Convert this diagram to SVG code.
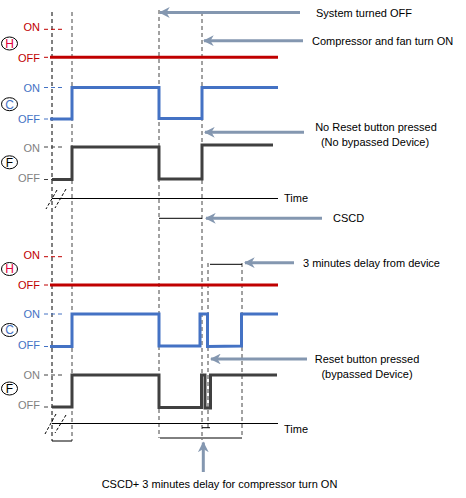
<svg xmlns="http://www.w3.org/2000/svg" width="466" height="498" viewBox="0 0 466 498">
<defs>
<marker id="ah" viewBox="0 0 10 10" refX="9" refY="5" markerWidth="3.6" markerHeight="3.6" orient="auto" markerUnits="strokeWidth">
<path d="M0,0 L10,5 L0,10 L3,5 Z" fill="#8497b0"/>
</marker>
</defs>
<style>
text{font-family:"Liberation Sans",Arial,sans-serif;font-size:11px;fill:#000}
.lbl{font-size:11px;text-anchor:end}
.red{fill:#c00000}.blu{fill:#4472c4}.gry{fill:#7f7f7f}
.vd{stroke:#444;stroke-width:1;stroke-dasharray:4,3;fill:none}
.ax{stroke:#000;stroke-width:1;fill:none}
.sl{stroke:#000;stroke-width:1;stroke-dasharray:3,2;fill:none}
.tk{stroke-width:1;stroke-dasharray:4,3;fill:none}
.sig{fill:none;stroke-width:3;stroke-linejoin:miter}
.arr{stroke:#8497b0;stroke-width:3;fill:none;marker-end:url(#ah)}
.circ{fill:#fff;stroke:#000;stroke-width:1}
.cl{font-size:12px;text-anchor:middle}
</style>

<g id="guides">
<line class="vd" x1="52" y1="12" x2="52" y2="441" style="stroke:#000"/>
<line class="vd" x1="72" y1="12" x2="72" y2="441"/>
<line class="vd" x1="159" y1="10" x2="159" y2="438"/>
<line class="vd" x1="202" y1="12" x2="202" y2="440"/>
<line class="vd" x1="208" y1="263" x2="208" y2="428"/>
<line class="vd" x1="242" y1="263" x2="242" y2="438"/>
</g>

<g id="top-panel">
<g id="top-H">
<ellipse class="circ" cx="9.5" cy="43.5" rx="8" ry="6.5"/>
<text class="cl" x="9.5" y="47.8" style="fill:#e0003c">H</text>
<text class="lbl red" x="40" y="31">ON</text>
<text class="lbl red" x="40" y="61.5">OFF</text>
<line class="tk" x1="44" y1="29.3" x2="63" y2="29.3" stroke="#c00000"/>
<line class="tk" x1="44" y1="57.3" x2="63" y2="57.3" stroke="#c00000"/>
<polyline class="sig" stroke="#c00000" points="50,57.3 278,57.3"/>
</g>
<g id="top-C">
<ellipse class="circ" cx="9.5" cy="104.2" rx="8" ry="6.5"/>
<text class="cl blu" x="9.5" y="108.5">C</text>
<text class="lbl blu" x="40" y="92">ON</text>
<text class="lbl blu" x="40" y="122.5">OFF</text>
<line class="tk" x1="44" y1="87.5" x2="63" y2="87.5" stroke="#4472c4"/>
<line class="tk" x1="44" y1="119" x2="63" y2="119" stroke="#4472c4"/>
<polyline class="sig" stroke="#4472c4" points="50,119 72,119 72,87.5 159,87.5 159,118.5 202,118.5 202,87.5 278,87.5"/>
</g>
<g id="top-F">
<ellipse class="circ" cx="9.5" cy="162.3" rx="8" ry="6.5"/>
<text class="cl" x="9.5" y="166.6">F</text>
<text class="lbl gry" x="40" y="152">ON</text>
<text class="lbl gry" x="40" y="182">OFF</text>
<line class="tk" x1="44" y1="147" x2="63" y2="147" stroke="#404040"/>
<line class="tk" x1="44" y1="179.5" x2="63" y2="179.5" stroke="#404040"/>
<polyline class="sig" stroke="#404040" points="52,179.5 72,179.5 72,147 159,147 159,179 202,179 202,145 273,145"/>
</g>
<g id="top-axis">
<line class="ax" x1="52" y1="198.5" x2="278" y2="198.5"/>
<line class="sl" x1="57" y1="190" x2="46" y2="209"/>
<line class="sl" x1="66" y1="189" x2="55" y2="208"/>
<text x="284" y="202">Time</text>
<line class="ax" x1="159" y1="218.3" x2="202" y2="218.3"/>
</g>
</g>

<g id="bottom-panel">
<g id="bot-H">
<ellipse class="circ" cx="9.5" cy="269" rx="8" ry="6.5"/>
<text class="cl" x="9.5" y="273.3" style="fill:#e0003c">H</text>
<text class="lbl red" x="40" y="259">ON</text>
<text class="lbl red" x="40" y="288.5">OFF</text>
<line class="tk" x1="44" y1="256.7" x2="63" y2="256.7" stroke="#c00000"/>
<line class="tk" x1="44" y1="285" x2="63" y2="285" stroke="#c00000"/>
<polyline class="sig" stroke="#c00000" points="50,285 278,285"/>
</g>
<g id="bot-C">
<ellipse class="circ" cx="9.5" cy="330" rx="8" ry="6.5"/>
<text class="cl blu" x="9.5" y="334.3">C</text>
<text class="lbl blu" x="40" y="318">ON</text>
<text class="lbl blu" x="40" y="348.5">OFF</text>
<line class="tk" x1="44" y1="314" x2="63" y2="314" stroke="#4472c4"/>
<line class="tk" x1="44" y1="346.5" x2="63" y2="346.5" stroke="#4472c4"/>
<polyline class="sig" stroke="#4472c4" points="50,346.5 72,346.5 72,314 159,314 159,346 200,346 200,314 207.5,314 207.5,346.5 241.5,346 241.5,314 278,314"/>
</g>
<g id="bot-F">
<ellipse class="circ" cx="9.5" cy="388.5" rx="8" ry="6.5"/>
<text class="cl" x="9.5" y="392.8">F</text>
<text class="lbl gry" x="40" y="379">ON</text>
<text class="lbl gry" x="40" y="409">OFF</text>
<line class="tk" x1="44" y1="375" x2="63" y2="375" stroke="#404040"/>
<line class="tk" x1="44" y1="407" x2="63" y2="407" stroke="#404040"/>
<polyline class="sig" stroke="#404040" points="52,407 72,407 72,375 159,375 159,407.5 201.5,407.5 201.5,375 205,375 205,408 210.5,408 210.5,375 277,375"/>
</g>
<g id="bot-axis">
<line class="ax" x1="52" y1="423.5" x2="278" y2="423.5"/>
<line class="sl" x1="56" y1="414" x2="45" y2="434"/>
<line class="sl" x1="66" y1="415" x2="55" y2="433"/>
<text x="284" y="433">Time</text>
<line class="ax" x1="52" y1="441" x2="72" y2="441"/>
<line class="ax" x1="160" y1="438" x2="242" y2="438"/>
<line class="ax" x1="202" y1="427.7" x2="210" y2="427.7"/>
<line class="ax" x1="210" y1="264.3" x2="242" y2="264.3"/>
</g>
</g>

<g id="connectors">
<line class="arr" x1="300" y1="12.5" x2="160" y2="12.5"/>
<line class="arr" x1="303" y1="40.7" x2="204" y2="40.7"/>
<line class="arr" x1="304" y1="132.3" x2="205" y2="132.3"/>
<line class="arr" x1="322" y1="218.3" x2="206" y2="218.3"/>
<line class="arr" x1="294" y1="262.7" x2="245" y2="262.7"/>
<line class="arr" x1="307" y1="359" x2="211" y2="359"/>
<line class="arr" x1="203.3" y1="472" x2="203.3" y2="442.5"/>
</g>

<g id="annotations">
<text x="316" y="17">System  turned OFF</text>
<text x="312" y="44.5">Compressor and fan turn ON</text>
<text x="376" y="131" text-anchor="middle">No Reset button pressed</text>
<text x="375" y="146" text-anchor="middle">(No bypassed Device)</text>
<text x="333" y="222">CSCD</text>
<text x="303" y="267">3 minutes delay from device</text>
<text x="367" y="363" text-anchor="middle">Reset button pressed</text>
<text x="367" y="378" text-anchor="middle">(bypassed Device)</text>
<text x="219.5" y="488" text-anchor="middle">CSCD+ 3 minutes delay for compressor turn ON</text>
</g>
</svg>
